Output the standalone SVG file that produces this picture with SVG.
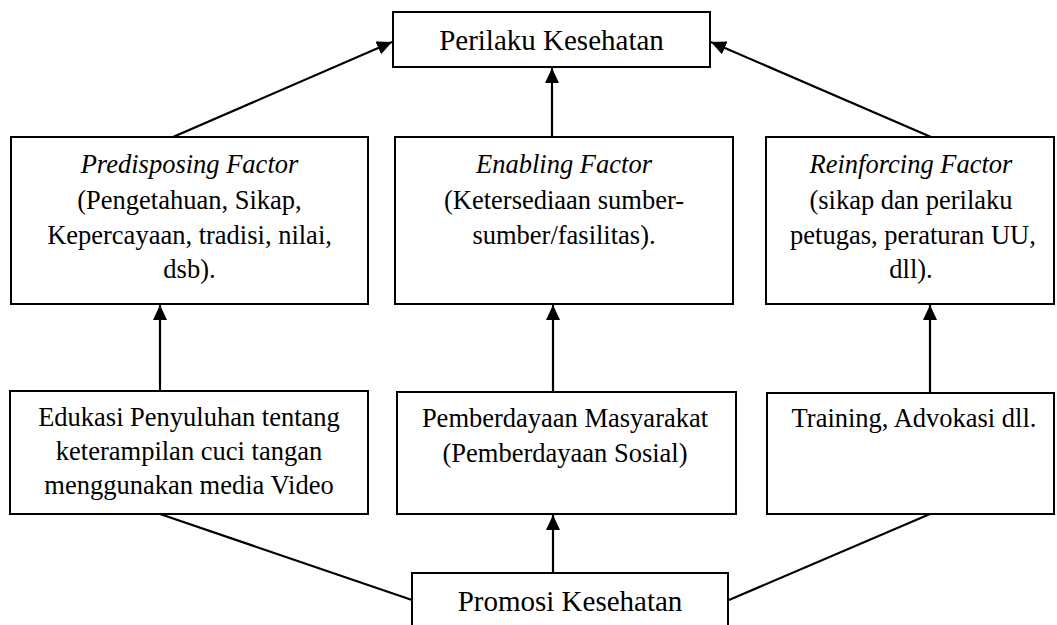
<svg xmlns="http://www.w3.org/2000/svg" width="1057" height="625" viewBox="0 0 1057 625">
<style>
.box{fill:#fff;stroke:#000;stroke-width:2}
.t{font-family:"Liberation Serif","Times New Roman",serif;font-size:26.5px;fill:#000;text-anchor:middle}
.big{font-size:29px}
.i{font-style:italic}
.c{stroke:#000;stroke-width:2.2;fill:none}
</style>
<defs>
<marker id="ah" markerUnits="userSpaceOnUse" markerWidth="16" markerHeight="14" refX="15" refY="7" orient="auto">
<path d="M0,0 L15,7 L0,14 z" fill="#000"/>
</marker>
</defs>
<rect width="1057" height="625" fill="#fff"/>
<g id="connectors">
<line class="c" x1="173" y1="137" x2="392" y2="42" marker-end="url(#ah)"/>
<line class="c" x1="552" y1="137" x2="552" y2="68" marker-end="url(#ah)"/>
<line class="c" x1="931" y1="137" x2="711" y2="42" marker-end="url(#ah)"/>
<line class="c" x1="160" y1="391" x2="160" y2="305" marker-end="url(#ah)"/>
<line class="c" x1="553" y1="392" x2="553" y2="305" marker-end="url(#ah)"/>
<line class="c" x1="930" y1="393" x2="930" y2="305" marker-end="url(#ah)"/>
<line class="c" x1="553" y1="573" x2="553" y2="515" marker-end="url(#ah)"/>
<line class="c" x1="160" y1="514" x2="412" y2="600"/>
<line class="c" x1="930" y1="514" x2="729" y2="600"/>
</g>
<g id="perilaku">
<rect class="box" x="393" y="12" width="317" height="55"/>
<text class="t big" x="551.5" y="50">Perilaku Kesehatan</text>
</g>
<g id="predisposing">
<rect class="box" x="11" y="137" width="357" height="167"/>
<text class="t" x="189.5" y="173"><tspan class="i">Predisposing Factor</tspan><tspan x="189.5" y="209">(Pengetahuan, Sikap,</tspan><tspan x="189.5" y="244">Kepercayaan, tradisi, nilai,</tspan><tspan x="189.5" y="278">dsb).</tspan></text>
</g>
<g id="enabling">
<rect class="box" x="395" y="137" width="338" height="167"/>
<text class="t" x="564" y="173"><tspan class="i">Enabling Factor</tspan><tspan x="564" y="209">(Ketersediaan sumber-</tspan><tspan x="564" y="244">sumber/fasilitas).</tspan></text>
</g>
<g id="reinforcing">
<rect class="box" x="766" y="137" width="288" height="167"/>
<text class="t" x="911" y="173"><tspan class="i">Reinforcing Factor</tspan><tspan x="911" y="209">(sikap dan perilaku</tspan><tspan x="913" y="244">petugas, peraturan UU,</tspan><tspan x="911" y="278">dll).</tspan></text>
</g>
<g id="edukasi">
<rect class="box" x="10" y="391" width="358" height="123"/>
<text class="t" x="189" y="426">Edukasi Penyuluhan tentang<tspan x="189" y="460">keterampilan cuci tangan</tspan><tspan x="189" y="494">menggunakan media Video</tspan></text>
</g>
<g id="pemberdayaan">
<rect class="box" x="397" y="392" width="339" height="122"/>
<text class="t" x="565" y="427">Pemberdayaan Masyarakat<tspan x="565" y="462">(Pemberdayaan Sosial)</tspan></text>
</g>
<g id="training">
<rect class="box" x="767" y="393" width="287" height="121"/>
<text class="t" x="914" y="427">Training, Advokasi dll.</text>
</g>
<g id="promosi">
<rect class="box" x="412" y="573" width="316" height="70"/>
<text class="t big" x="570" y="611">Promosi Kesehatan</text>
</g>
</svg>
